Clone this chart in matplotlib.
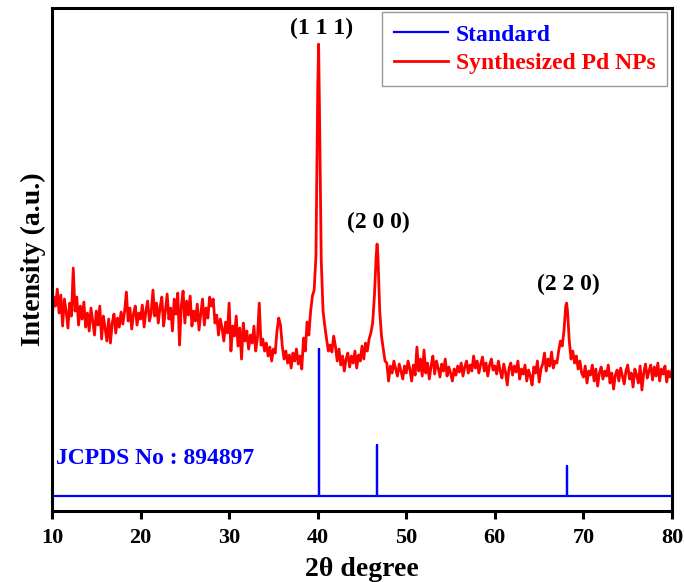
import numpy as np
import matplotlib
matplotlib.use("Agg")
import matplotlib.pyplot as plt

plt.rcParams["font.family"] = ["Liberation Serif", "DejaVu Serif"]
plt.rcParams["font.weight"] = "bold"

# XRD scan of the synthesized Pd NPs, sampled every 0.2 deg from 10 to 80
scan_start, scan_step = 10.0, 0.2
intensity = [
    190, 214, 205, 222, 198, 216, 185, 212, 200, 183,
    208, 195, 243, 200, 214, 186, 205, 192, 209, 184,
    198, 180, 203, 190, 176, 200, 186, 205, 172, 195,
    183, 170, 192, 168, 188, 197, 178, 193, 184, 199,
    187, 200, 219, 190, 203, 182, 197, 205, 186, 198,
    192, 206, 184, 200, 210, 190, 198, 221, 195, 208,
    188, 204, 214, 185, 200, 217, 192, 203, 180, 212,
    197, 218, 166, 205, 220, 188, 210, 196, 215, 185,
    200, 190, 207, 181, 198, 212, 186, 203, 193, 214,
    205, 212, 188, 196, 176, 192, 183, 170, 189, 178,
    208, 160, 185, 175, 195, 165, 183, 152, 188, 170,
    180, 162, 176, 168, 185, 160, 174, 208, 166, 172,
    160, 168, 155, 164, 150, 162, 158, 180, 193, 186,
    165, 152, 160, 148, 156, 143, 158, 150, 162, 147,
    155, 142, 173, 160, 189, 176, 200, 215, 221, 255,
    420, 400, 250, 200, 185, 172, 160, 166, 159, 175,
    165, 150, 162, 146, 155, 140, 152, 158, 144, 155,
    148, 160, 143, 156, 150, 165, 152, 168, 160, 172,
    178, 188, 215, 255, 255, 200, 175, 162, 150, 148,
    130, 145, 138, 150, 142, 135, 147, 140, 132, 145,
    138, 150, 142, 130, 146, 136, 164, 140, 152, 135,
    161, 138, 148, 132, 145, 155, 137, 150, 143, 134,
    147, 140, 152, 135, 144, 138, 130, 142, 136, 145,
    139, 148, 135, 144, 150, 138, 146, 140, 155, 143,
    150, 138, 147, 154, 140, 148, 135, 146, 152, 141,
    145, 137, 150, 140, 133, 147, 139, 126, 143, 148,
    136, 145, 139, 150, 132, 142, 137, 146, 130, 141,
    135, 126, 144, 138, 150, 129, 142, 147, 158, 140,
    152, 145, 159, 143, 150, 148, 160, 170, 165, 180,
    205, 200, 170, 152, 160, 148, 155, 142, 150, 138,
    134, 145, 128, 140, 136, 146, 130, 142, 125, 138,
    144, 132, 140, 135, 146, 128, 138, 122, 136, 141,
    130, 143, 135, 127, 140, 146, 132, 138, 124, 142,
    136, 128, 145, 121, 138, 147, 133, 140, 146, 131,
    144, 135, 148, 130, 142, 137, 145, 129, 140, 134,
    141,
]

# peak maxima that fall between the scan points
peak_theta = [40.1, 46.7, 68.1]
peak_top = [467, 267, 208]
peak_labels = ["(1 1 1)", "(2 0 0)", "(2 2 0)"]
label_theta = [40.4, 46.9, 68.3]
label_y = [483, 289, 227]

# JCPDS 894897 reference lines
std_theta = [40.1, 46.7, 68.1]
std_height = [147, 51, 30]
std_base = 15

two_theta = np.round(scan_start + scan_step * np.arange(len(intensity)), 1)
x = np.concatenate([two_theta, peak_theta])
y = np.concatenate([intensity, peak_top])
order = np.argsort(x)
x, y = x[order], y[order]

# stick pattern as one line: baseline -> up -> down at each reflection
sx, sy = [10], [std_base]
for t, h in zip(std_theta, std_height):
    sx += [t, t, t]
    sy += [std_base, std_base + h, std_base]
sx.append(80)
sy.append(std_base)

fig = plt.figure(figsize=(6.84, 5.82), dpi=100)
ax = fig.add_axes([0.076, 0.122, 0.9065, 0.864])

ax.plot(sx, sy, color="#0000ff", lw=1.6, label="Standard")
ax.plot(x, y, color="#ff0000", lw=2.0, label="Synthesized Pd NPs")

for t, ly, lab in zip(label_theta, label_y, peak_labels):
    ax.text(t, ly, lab, ha="center", va="center", fontsize=17, fontweight="bold")

ax.text(10.4, 53, "JCPDS No : 894897", color="#0000ff", fontsize=17,
        fontweight="bold", va="center", ha="left")

ax.set_xlim(10, 80)
ax.set_ylim(0, 503)
ax.set_xticks(range(10, 81, 10))
ax.set_yticks([])
ax.tick_params(axis="x", direction="out", length=6, width=2.2, pad=6, labelsize=16)
for s in ax.spines.values():
    s.set_linewidth(2.2)

ax.set_xlabel("2θ degree", fontsize=20, fontweight="bold", labelpad=7)
ax.set_ylabel("Intensity (a.u.)", fontsize=20, fontweight="bold", labelpad=4)

leg = ax.legend(loc="upper right", bbox_to_anchor=(0.992, 0.992), borderaxespad=0,
                fancybox=False, handlelength=2.3, handletextpad=0.3,
                prop={"weight": "bold", "size": 17}, borderpad=0.5, labelspacing=0.3)
leg.get_frame().set_edgecolor("#808080")
leg.get_frame().set_linewidth(1.0)
for txt, line in zip(leg.get_texts(), leg.get_lines()):
    txt.set_color(line.get_color())

fig.savefig("out.png", dpi=100)
